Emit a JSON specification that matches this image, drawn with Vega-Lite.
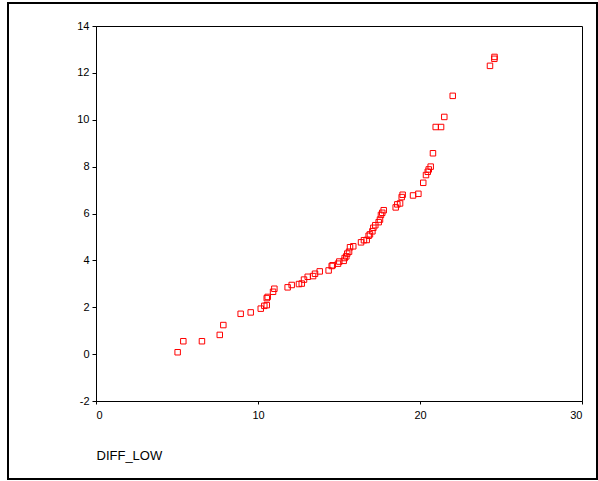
{
  "$schema": "https://vega.github.io/schema/vega-lite/v6.json",
  "width": 486,
  "height": 375,
  "autosize": {"type": "none"},
  "padding": {"left": 96, "top": 26, "right": 16, "bottom": 80},
  "background": "white",
  "config": {
    "view": {"stroke": "black", "strokeWidth": 1},
    "font": "Liberation Sans",
    "axis": {
      "grid": false,
      "domainColor": "black",
      "tickColor": "black",
      "labelColor": "black",
      "labelFont": "Liberation Sans",
      "labelFontSize": 11,
      "titleFont": "Liberation Sans",
      "titleFontWeight": "normal",
      "titleColor": "black"
    }
  },
  "data": {
    "values": [
      {"DIFF_LOW": 5.04, "score": 0.08},
      {"DIFF_LOW": 5.39, "score": 0.55},
      {"DIFF_LOW": 6.54, "score": 0.55},
      {"DIFF_LOW": 7.64, "score": 0.82},
      {"DIFF_LOW": 7.86, "score": 1.24},
      {"DIFF_LOW": 8.93, "score": 1.72},
      {"DIFF_LOW": 9.55, "score": 1.78},
      {"DIFF_LOW": 10.17, "score": 1.94},
      {"DIFF_LOW": 10.39, "score": 2.06},
      {"DIFF_LOW": 10.54, "score": 2.09},
      {"DIFF_LOW": 10.54, "score": 2.39},
      {"DIFF_LOW": 10.6, "score": 2.44},
      {"DIFF_LOW": 10.93, "score": 2.66},
      {"DIFF_LOW": 11.01, "score": 2.79},
      {"DIFF_LOW": 11.83, "score": 2.85},
      {"DIFF_LOW": 12.08, "score": 2.95},
      {"DIFF_LOW": 12.53, "score": 2.99},
      {"DIFF_LOW": 12.7, "score": 3.01},
      {"DIFF_LOW": 12.84, "score": 3.18},
      {"DIFF_LOW": 13.07, "score": 3.3},
      {"DIFF_LOW": 13.4, "score": 3.33},
      {"DIFF_LOW": 13.52, "score": 3.43},
      {"DIFF_LOW": 13.81, "score": 3.53},
      {"DIFF_LOW": 14.36, "score": 3.57},
      {"DIFF_LOW": 14.55, "score": 3.76},
      {"DIFF_LOW": 14.61, "score": 3.79},
      {"DIFF_LOW": 14.94, "score": 3.86},
      {"DIFF_LOW": 15.02, "score": 3.95},
      {"DIFF_LOW": 15.29, "score": 3.98},
      {"DIFF_LOW": 15.35, "score": 4.1},
      {"DIFF_LOW": 15.45, "score": 4.17},
      {"DIFF_LOW": 15.51, "score": 4.29},
      {"DIFF_LOW": 15.62, "score": 4.37},
      {"DIFF_LOW": 15.68, "score": 4.56},
      {"DIFF_LOW": 15.88, "score": 4.6},
      {"DIFF_LOW": 16.36, "score": 4.77},
      {"DIFF_LOW": 16.54, "score": 4.86},
      {"DIFF_LOW": 16.71, "score": 4.87},
      {"DIFF_LOW": 16.83, "score": 5.05},
      {"DIFF_LOW": 16.91, "score": 5.11},
      {"DIFF_LOW": 17.06, "score": 5.24},
      {"DIFF_LOW": 17.12, "score": 5.39},
      {"DIFF_LOW": 17.24, "score": 5.5},
      {"DIFF_LOW": 17.45, "score": 5.63},
      {"DIFF_LOW": 17.53, "score": 5.74},
      {"DIFF_LOW": 17.59, "score": 5.94},
      {"DIFF_LOW": 17.67, "score": 6.03},
      {"DIFF_LOW": 17.76, "score": 6.14},
      {"DIFF_LOW": 18.5, "score": 6.26},
      {"DIFF_LOW": 18.6, "score": 6.39},
      {"DIFF_LOW": 18.77, "score": 6.43},
      {"DIFF_LOW": 18.87, "score": 6.7},
      {"DIFF_LOW": 18.93, "score": 6.8},
      {"DIFF_LOW": 19.57, "score": 6.77},
      {"DIFF_LOW": 19.9, "score": 6.84},
      {"DIFF_LOW": 20.2, "score": 7.31},
      {"DIFF_LOW": 20.37, "score": 7.64},
      {"DIFF_LOW": 20.48, "score": 7.78},
      {"DIFF_LOW": 20.54, "score": 7.88},
      {"DIFF_LOW": 20.66, "score": 8.0},
      {"DIFF_LOW": 20.8, "score": 8.57},
      {"DIFF_LOW": 20.97, "score": 9.69},
      {"DIFF_LOW": 21.3, "score": 9.69},
      {"DIFF_LOW": 21.5, "score": 10.12},
      {"DIFF_LOW": 22.02, "score": 11.02},
      {"DIFF_LOW": 24.32, "score": 12.3},
      {"DIFF_LOW": 24.59, "score": 12.6},
      {"DIFF_LOW": 24.6, "score": 12.68}
    ]
  },
  "layer": [
    {
      "mark": {"type": "rect", "fill": null, "fillOpacity": 0, "stroke": "black", "strokeWidth": 1.2, "clip": false},
      "encoding": {
        "x": {"datum": -5.43, "type": "quantitative"},
        "x2": {"datum": 30.93},
        "y": {"datum": 14.98, "type": "quantitative"},
        "y2": {"datum": -5.33}
      }
    },
    {
      "mark": {"type": "point", "shape": "square", "filled": false, "color": "#ff0000", "size": 30, "strokeWidth": 1, "opacity": 1},
      "encoding": {
        "x": {
          "field": "DIFF_LOW",
          "type": "quantitative",
          "scale": {"domain": [0, 30], "nice": false, "zero": false},
          "axis": {
            "values": [0, 10, 20, 30],
            "tickSize": 3,
            "labelPadding": 5,
            "title": "DIFF_LOW",
            "titleFontSize": 13,
            "titleAnchor": "start",
            "titleAlign": "left",
            "titlePadding": 29
          }
        },
        "y": {
          "field": "score",
          "type": "quantitative",
          "scale": {"domain": [-2, 14], "nice": false, "zero": false},
          "axis": {
            "values": [-2, 0, 2, 4, 6, 8, 10, 12, 14],
            "labelExpr": "replace(datum.label, '\u2212', '-')",
            "tickSize": 4,
            "labelPadding": 3,
            "title": null
          }
        }
      }
    }
  ]
}
